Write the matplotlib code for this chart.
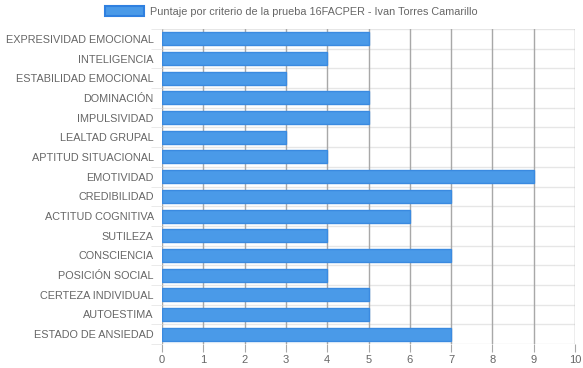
import numpy as np
import matplotlib
matplotlib.use("Agg")
import matplotlib.pyplot as plt
from matplotlib.patches import Patch

# datos
criterios = ["EXPRESIVIDAD EMOCIONAL", "INTELIGENCIA", "ESTABILIDAD EMOCIONAL",
             "DOMINACIÓN", "IMPULSIVIDAD", "LEALTAD GRUPAL", "APTITUD SITUACIONAL",
             "EMOTIVIDAD", "CREDIBILIDAD", "ACTITUD COGNITIVA", "SUTILEZA",
             "CONSCIENCIA", "POSICIÓN SOCIAL", "CERTEZA INDIVIDUAL", "AUTOESTIMA",
             "ESTADO DE ANSIEDAD"]
puntajes = [5, 4, 3, 5, 5, 3, 4, 9, 7, 6, 4, 7, 4, 5, 5, 7]
ticks_x = list(range(0, 11))
titulo = "Puntaje por criterio de la prueba 16FACPER - Ivan Torres Camarillo"

plt.rcParams['font.family'] = ['Liberation Sans', 'DejaVu Sans']

fig = plt.figure(figsize=(5.83, 3.68), dpi=100)
ax = fig.add_axes([162 / 583, 24 / 368, 413 / 583, 315 / 368])

y = np.arange(len(criterios))
ax.barh(y, puntajes, height=0.66, color="#4a9ae8", edgecolor="#3a8ae0",
        linewidth=1, zorder=3)

ax.set_xlim(0, 10)
ax.set_ylim(len(criterios) - 0.5, -0.5)
ax.set_xticks(ticks_x)
ax.set_yticks(y)
ax.set_yticklabels(criterios)
# marcas en los limites de cada categoria
ax.set_yticks(np.arange(-0.5, len(criterios), 1), minor=True)

# lineas de grilla
for v in ticks_x:
    ax.axvline(v, color="#a8a8a8", lw=1, zorder=1)
for b in np.arange(-0.5, len(criterios), 1):
    ax.axhline(b, color="#e6e6e6", lw=1, zorder=0)

for s in ax.spines.values():
    s.set_visible(False)
ax.tick_params(axis="x", colors="#a8a8a8", labelcolor="#666666", length=6,
               labelsize=8, pad=2)
ax.tick_params(axis="y", which="major", length=0, labelcolor="#666666",
               labelsize=7.8, pad=6)
ax.tick_params(axis="y", which="minor", length=8, color="#e6e6e6")

# leyenda
leg = fig.legend(handles=[Patch(facecolor="#4a9ae8", edgecolor="#2f80e0", lw=1.5)],
                 labels=[titulo], loc="upper center", bbox_to_anchor=(0.5, 1.01),
                 frameon=False, fontsize=7.8, handlelength=3.6, handleheight=1.0,
                 handletextpad=0.5)
for t in leg.get_texts():
    t.set_color("#666666")

fig.savefig("out.png", dpi=100)
